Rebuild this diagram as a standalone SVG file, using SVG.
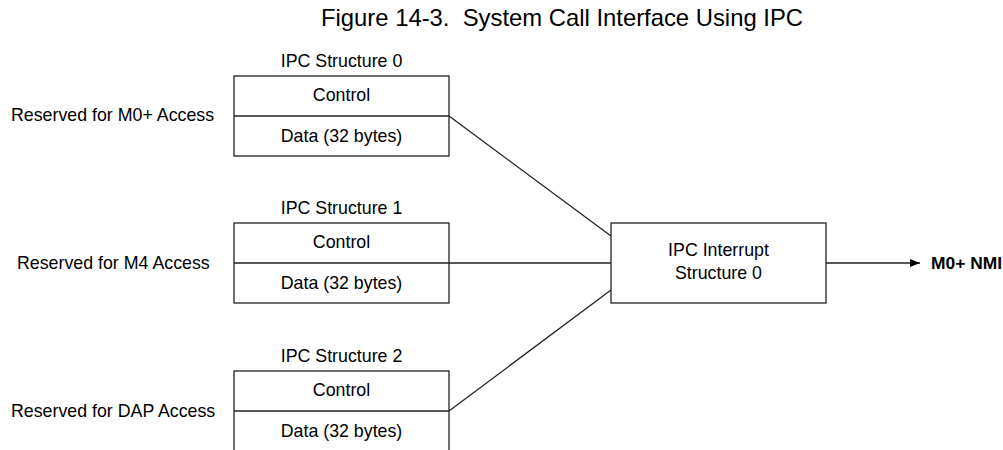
<svg xmlns="http://www.w3.org/2000/svg" width="1003" height="450" viewBox="0 0 1003 450">
<defs>
<style>
text{font-family:"Liberation Sans",Arial,sans-serif;fill:#000}
.lbl{font-size:17.8px}
.c{text-anchor:middle}
.title{font-size:24px;white-space:pre}
.b{font-weight:bold;font-size:17.4px}
.box{fill:#fff;stroke:#222;stroke-width:1.3}
.ln{fill:none;stroke:#222;stroke-width:1.3}
</style>
<marker id="arr" viewBox="0 0 10 10" refX="10" refY="5" markerWidth="10" markerHeight="10" markerUnits="userSpaceOnUse" orient="auto">
<path d="M0,1 L10,5 L0,9 Z" fill="#000"/>
</marker>
</defs>
<rect width="1003" height="450" fill="#fff"/>
<text class="title" x="321" y="26" textLength="482" lengthAdjust="spacingAndGlyphs" xml:space="preserve">Figure 14-3.  System Call Interface Using IPC</text>

<g id="connectors">
<line class="ln" x1="449" y1="116" x2="611" y2="236"/>
<line class="ln" x1="449" y1="263" x2="611" y2="263"/>
<line class="ln" x1="449" y1="411" x2="611" y2="290"/>
<line class="ln" x1="826" y1="263" x2="920" y2="263" marker-end="url(#arr)"/>
</g>

<g id="ipc0">
<text class="lbl c" x="341.5" y="67">IPC Structure 0</text>
<rect class="box" x="234" y="76" width="215" height="80"/>
<line class="ln" x1="234" y1="116" x2="449" y2="116"/>
<text class="lbl c" x="341.5" y="101">Control</text>
<text class="lbl c" x="341.5" y="142">Data (32 bytes)</text>
<text class="lbl" x="11" y="121">Reserved for M0+ Access</text>
</g>

<g id="ipc1">
<text class="lbl c" x="341.5" y="214">IPC Structure 1</text>
<rect class="box" x="234" y="223" width="215" height="80"/>
<line class="ln" x1="234" y1="263" x2="449" y2="263"/>
<text class="lbl c" x="341.5" y="248">Control</text>
<text class="lbl c" x="341.5" y="289">Data (32 bytes)</text>
<text class="lbl" x="17" y="269">Reserved for M4 Access</text>
</g>

<g id="ipc2">
<text class="lbl c" x="341.5" y="362">IPC Structure 2</text>
<rect class="box" x="234" y="371" width="215" height="82"/>
<line class="ln" x1="234" y1="411" x2="449" y2="411"/>
<text class="lbl c" x="341.5" y="396">Control</text>
<text class="lbl c" x="341.5" y="437">Data (32 bytes)</text>
<text class="lbl" x="11" y="417">Reserved for DAP Access</text>
</g>

<g id="intr">
<rect class="box" x="611" y="223" width="215" height="80"/>
<text class="lbl c" x="718.5" y="256">IPC Interrupt</text>
<text class="lbl c" x="718.5" y="279">Structure 0</text>
</g>

<g id="nmi">
<text class="b" x="931" y="269">M0+ NMI</text>
</g>
</svg>
